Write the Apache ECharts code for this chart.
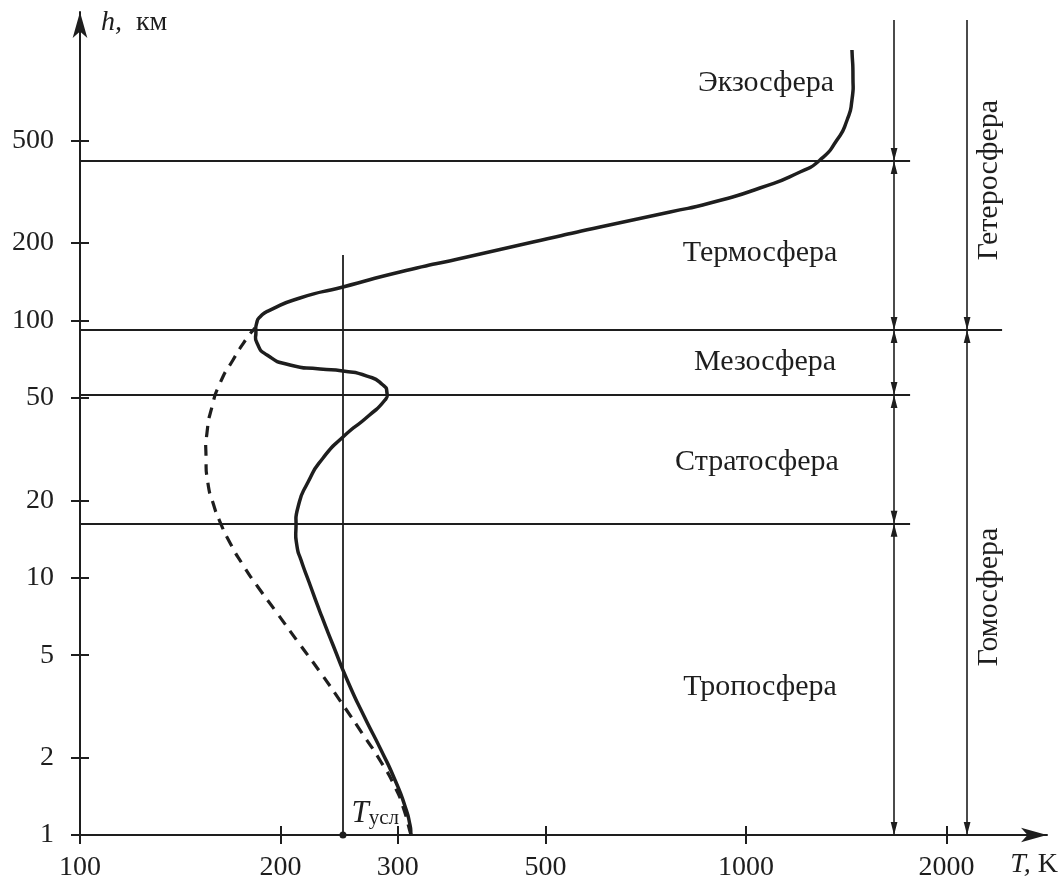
<!DOCTYPE html>
<html>
<head>
<meta charset="utf-8">
<script src="https://cdn.jsdelivr.net/npm/echarts@6.0.0/dist/echarts.min.js"></script>
<style>
html,body{margin:0;padding:0;background:#ffffff;}
#chart{width:1061px;height:884px;}
</style>
</head>
<body>
<div id="chart"></div>
<script>
// ---- data ----
const xTicks = [100, 200, 300, 500, 1000, 2000];          // T, K
const yTicks = [1, 2, 5, 10, 20, 50, 100, 200, 500];       // h, km

// solid curve: real temperature profile (T in K, h in km)
const solidT = [314, 312.9, 307.5, 297.1, 283.1, 266.9, 252.6, 239.8, 229.3, 220.7, 214.7, 211.7, 211.0, 212.5, 220.0, 231.7, 248.2, 271.0, 287.0, 289.0, 285.0, 269.7, 248.2, 229.3, 206.7, 190.9, 184.4, 183.7, 184.2, 186.3, 192.9, 213.9, 248.2, 302.2, 381.1, 478.7, 603.6, 768.9, 882.9, 1049, 1205, 1291, 1369, 1418, 1442, 1447, 1442];
const solidH = [1, 1.094, 1.296, 1.636, 2.140, 2.901, 3.932, 5.476, 7.357, 9.623, 11.71, 13.28, 15.74, 18.83, 23.55, 29.19, 35.23, 42.5, 49.05, 52.22, 56.09, 60.79, 63.57, 64.72, 67.08, 73.38, 81.7, 90.13, 97.7, 103.1, 109.7, 122.2, 134.9, 154.2, 176.4, 201.7, 230.7, 263.8, 286.0, 327.0, 377.5, 420.2, 502.5, 601.0, 718.9, 883.1, 1124];

// dashed curve
const dashedT = [314, 305.5, 297.1, 283.1, 265.1, 246.5, 229.3, 212.5, 197.6, 185.0, 175.7, 168.0, 162.3, 158.4, 155.6, 154.6, 155.1, 157.8, 162.3, 169.7, 178.1, 183.1];
const dashedH = [1, 1.285, 1.537, 1.922, 2.491, 3.288, 4.301, 5.625, 7.292, 9.203, 11.20, 13.64, 16.46, 19.51, 23.34, 29.45, 36.50, 46.06, 57.10, 70.19, 85.43, 93.4];

// layer boundaries (km) and where each boundary line ends (K)
const boundaryH = [416.4, 91.8, 51.3, 16.2];
const boundaryEndT = [1763, 2423, 1763, 1763];

// conventional temperature line
const tUsl = 248.2;
const tUslTopH = 179.6;

// dimension lines (K) and their top (km)
const leftDimT = 1668;
const rightDimT = 2147;
const dimTopH = 1471;

const layerNames = ['Экзосфера', 'Термосфера', 'Мезосфера', 'Стратосфера', 'Тропосфера'];
const sphereNames = ['Гетеросфера', 'Гомосфера'];

// ---- presentation ----
const FONT = 'Liberation Serif';
const INK = '#1e1e1e';
const X_MIN = 100, X_MAX = 2830, Y_MIN = 1, Y_MAX = 1580;
const ARROW = 'path://M0 0L20 0M7.4 20L10 10L12.6 20Z';

const layerPix = [[766, 83], [760, 253], [765, 362], [757, 462], [760, 687]];
const spherePix = [[989, 180], [989, 597]];

const chart = echarts.init(document.getElementById('chart'), null, {renderer: 'canvas'});

const tickLine = {color: INK, width: 2};

// smooth path through screen points (chord-weighted Catmull-Rom style handles)
function smoothPath(p) {
  const dist = (a, b) => Math.hypot(b[0] - a[0], b[1] - a[1]);
  let d = 'M' + p[0][0] + ' ' + p[0][1];
  for (let i = 0; i < p.length - 1; i++) {
    const p0 = p[i - 1] || p[i], p1 = p[i], p2 = p[i + 1], p3 = p[i + 2] || p[i + 1];
    const d01 = dist(p0, p1), d12 = dist(p1, p2), d23 = dist(p2, p3);
    const k1 = (d01 + d12) > 0 ? d12 / (d01 + d12) / 1.5 : 0;
    const k2 = (d12 + d23) > 0 ? d12 / (d12 + d23) / 1.5 : 0;
    const c1x = p1[0] + (p2[0] - p0[0]) * k1, c1y = p1[1] + (p2[1] - p0[1]) * k1;
    const c2x = p2[0] - (p3[0] - p1[0]) * k2, c2y = p2[1] - (p3[1] - p1[1]) * k2;
    d += ' C' + c1x + ' ' + c1y + ' ' + c2x + ' ' + c2y + ' ' + p2[0] + ' ' + p2[1];
  }
  return d;
}

function curveSeries(Ts, Hs, style) {
  return {
    type: 'custom', coordinateSystem: 'cartesian2d', xAxisIndex: 0, yAxisIndex: 0,
    silent: true, clip: false, z: 5,
    data: [[Ts[0], Hs[0]]],
    renderItem: function (params, api) {
      const pts = Ts.map((t, i) => api.coord([t, Hs[i]]));
      return {
        type: 'path', silent: true,
        shape: {pathData: smoothPath(pts)},
        style: Object.assign({fill: null, stroke: INK, lineJoin: 'round', lineCap: 'butt'}, style)
      };
    }
  };
}

const leftSegs = [dimTopH, boundaryH[0], boundaryH[1], boundaryH[2], boundaryH[3], 1];
const bothData = [];
for (let i = 1; i < leftSegs.length - 1; i++) {
  bothData.push({coords: [[leftDimT, leftSegs[i]], [leftDimT, leftSegs[i + 1]]]});
}
bothData.push({coords: [[rightDimT, boundaryH[1]], [rightDimT, 1]]});

const option = {
  animation: false,
  backgroundColor: '#ffffff',
  grid: {left: 80, right: 14, top: 12, bottom: 49, containLabel: false, outerBoundsMode: 'none'},
  xAxis: [
    {
      type: 'log', logBase: 10, min: X_MIN, max: X_MAX, position: 'bottom',
      axisLine: {show: true, onZero: false, symbol: ['none', 'arrow'], symbolSize: [11, 26], symbolOffset: [0, 0], lineStyle: {color: INK, width: 2}},
      axisTick: {show: true, inside: false, length: 9, customValues: xTicks, lineStyle: tickLine},
      axisLabel: {show: true, customValues: xTicks, margin: 19, fontFamily: FONT, fontSize: 28, color: INK,
        formatter: v => String(Math.round(v))},
      minorTick: {show: false}, splitLine: {show: false},
      name: '{i|T,}{n| K}', nameLocation: 'end', nameGap: 11, nameMoveOverlap: false,
      nameTextStyle: {align: 'right', verticalAlign: 'top', padding: [16, 0, 0, 0],
        rich: {i: {fontFamily: FONT, fontStyle: 'italic', fontSize: 28, color: INK}, n: {fontFamily: FONT, fontSize: 28, color: INK}}}
    },
    {
      type: 'log', logBase: 10, min: X_MIN, max: X_MAX, position: 'bottom',
      axisLine: {show: false, onZero: false},
      axisTick: {show: true, inside: true, length: 9, customValues: xTicks, lineStyle: tickLine},
      axisLabel: {show: false}, minorTick: {show: false}, splitLine: {show: false}
    }
  ],
  yAxis: [
    {
      type: 'log', logBase: 10, min: Y_MIN, max: Y_MAX, position: 'left',
      axisLine: {show: true, onZero: false, symbol: ['none', 'arrow'], symbolSize: [11, 26], symbolOffset: [0, 0], lineStyle: {color: INK, width: 2}},
      axisTick: {show: true, inside: false, length: 9, customValues: yTicks, lineStyle: tickLine},
      axisLabel: {show: true, customValues: yTicks, margin: 26, fontFamily: FONT, fontSize: 28, color: INK,
        formatter: v => String(Math.round(v))},
      minorTick: {show: false}, splitLine: {show: false},
      name: '{i|h,}{n|  км}', nameLocation: 'end', nameGap: -11, nameMoveOverlap: false,
      nameTextStyle: {align: 'left', verticalAlign: 'middle', padding: [0, 0, 0, 21],
        rich: {i: {fontFamily: FONT, fontStyle: 'italic', fontSize: 28, color: INK}, n: {fontFamily: FONT, fontSize: 28, color: INK}}}
    },
    {
      type: 'log', logBase: 10, min: Y_MIN, max: Y_MAX, position: 'left',
      axisLine: {show: false, onZero: false},
      axisTick: {show: true, inside: true, length: 9, customValues: yTicks, lineStyle: tickLine},
      axisLabel: {show: false}, minorTick: {show: false}, splitLine: {show: false}
    }
  ],
  graphic: {
    elements: layerNames.map((n, i) => ({
      type: 'text', x: layerPix[i][0], y: layerPix[i][1], silent: true,
      style: {text: n, fontFamily: FONT, fontSize: 30, fill: INK, align: 'center', verticalAlign: 'middle', textAlign: 'center', textVerticalAlign: 'middle'}
    })).concat(sphereNames.map((n, i) => ({
      type: 'text', x: spherePix[i][0], y: spherePix[i][1], rotation: Math.PI / 2, silent: true,
      style: {text: n, fontFamily: FONT, fontSize: 30, fill: INK, align: 'center', verticalAlign: 'middle', textAlign: 'center', textVerticalAlign: 'middle'}
    })))
  },
  series: [
    curveSeries(solidT, solidH, {lineWidth: 3.5}),
    curveSeries(dashedT, dashedH, {lineWidth: 3.2, lineDash: [11, 8]}),
    {
      type: 'lines', coordinateSystem: 'cartesian2d', xAxisIndex: 0, yAxisIndex: 0, silent: true, z: 3,
      symbol: ['none', 'none'],
      lineStyle: {color: INK, width: 1.8, opacity: 1, curveness: 0},
      data: boundaryH.map((h, i) => ({coords: [[X_MIN, h], [boundaryEndT[i], h]]}))
        .concat([{coords: [[tUsl, 1], [tUsl, tUslTopH]]}])
    },
    {
      type: 'lines', coordinateSystem: 'cartesian2d', xAxisIndex: 0, yAxisIndex: 0, silent: true, z: 3,
      symbol: ['none', ARROW], symbolSize: 26,
      lineStyle: {color: INK, width: 1.6, opacity: 1, curveness: 0},
      data: [
        {coords: [[leftDimT, dimTopH], [leftDimT, boundaryH[0]]]},
        {coords: [[rightDimT, dimTopH], [rightDimT, boundaryH[1]]]}
      ]
    },
    {
      type: 'lines', coordinateSystem: 'cartesian2d', xAxisIndex: 0, yAxisIndex: 0, silent: true, z: 3,
      symbol: [ARROW, ARROW], symbolSize: 26,
      lineStyle: {color: INK, width: 1.6, opacity: 1, curveness: 0},
      data: bothData
    },
    {
      type: 'scatter', xAxisIndex: 0, yAxisIndex: 0, data: [[tUsl, 1]], symbol: 'circle', symbolSize: 7,
      clip: false, silent: true, z: 6, itemStyle: {color: INK, opacity: 1},
      label: {
        show: true, opacity: 1, position: 'right', distance: 6, offset: [-1, -6], align: 'left', verticalAlign: 'bottom',
        formatter: '{t|T}{s|усл}',
        rich: {
          t: {fontFamily: FONT, fontStyle: 'italic', fontSize: 31, lineHeight: 40, verticalAlign: 'bottom', color: INK, opacity: 1},
          s: {fontFamily: FONT, fontSize: 21, lineHeight: 20, verticalAlign: 'bottom', color: INK, opacity: 1}
        }
      }
    }
  ]
};
chart.setOption(option);
</script>
</body>
</html>
